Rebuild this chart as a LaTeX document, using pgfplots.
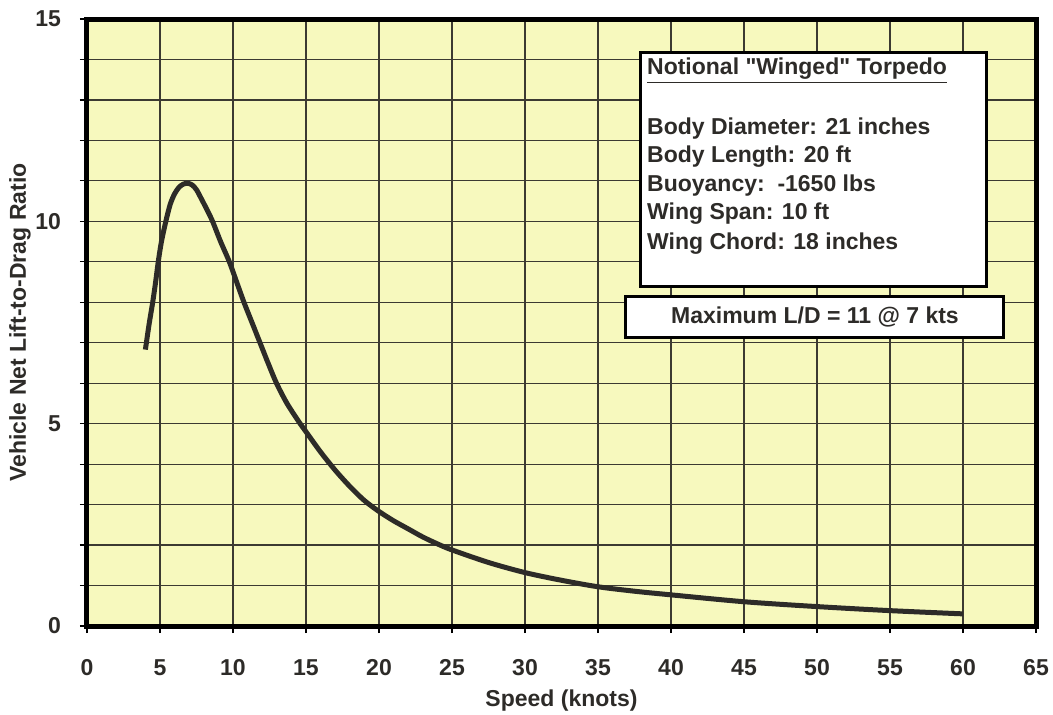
\documentclass[border=0pt]{standalone}
\usepackage{pgfplots}
\pgfplotsset{compat=1.18}
\usepackage{fontspec}
\setmainfont{Liberation Sans}
\definecolor{paper}{RGB}{247,249,190}
\definecolor{ink}{RGB}{45,43,40}
\definecolor{gridc}{RGB}{60,58,50}
\newcommand{\lblfont}{\fontsize{11.5}{13}\selectfont\bfseries}

\begin{document}
\begin{tikzpicture}
\begin{axis}[
    name=ax,
    scale only axis,
    width=474.5pt, height=303.5pt,
    xmin=0, xmax=65, ymin=0, ymax=15,
    xtick={0,5,...,65},
    ytick={0,5,10,15},
    minor y tick num=4,
    grid=both,
    major grid style={gridc, line width=0.6pt},
    minor grid style={gridc, line width=0.6pt},
    axis background/.style={fill=paper},
    axis line style={black, line width=2.5pt},
    tick align=outside,
    major tick length=3.5pt, minor tick length=3.5pt,
    every tick/.style={black, line width=0.6pt},
    every minor tick/.style={black, line width=0.6pt},
    xtick pos=bottom, ytick pos=left,
    /pgf/number format/assume math mode=true,
    tick label style={font=\lblfont, text=ink},
    xticklabel style={anchor=center, yshift=-17.5pt},
    yticklabel style={anchor=east, xshift=-6pt},
    xlabel={Speed (knots)},
    ylabel={Vehicle Net Lift-to-Drag Ratio},
    every axis x label/.style={at={(axis description cs:0.5,-0.1226)}, anchor=center, font=\lblfont, text=ink},
    every axis y label/.style={at={(axis description cs:-0.0707,0.5)}, rotate=90, anchor=center, font=\lblfont, text=ink},
]
\addplot[ink, line width=2.5pt, smooth] coordinates {
    (4.0,6.83) (4.25,7.45) (4.5,8.0) (4.7,8.5) (4.88,9.0) (5.1,9.5)
    (5.4,10.0) (5.7,10.42) (6.0,10.68) (6.3,10.84) (6.6,10.92) (6.9,10.94)
    (7.2,10.9) (7.5,10.78) (7.8,10.58) (8.2,10.3) (8.6,10.0) (9.15,9.5)
    (9.75,9.0) (10.25,8.5) (10.75,8.0) (11.3,7.5) (11.85,7.0) (12.4,6.5)
    (12.98,6.0) (13.7,5.5) (14.6,5.0) (15,4.8) (16,4.3) (17,3.85)
    (18,3.45) (19,3.1) (20,2.83) (21,2.6) (22,2.4) (23,2.2) (24,2.03)
    (25,1.88) (27.5,1.57) (30,1.32) (32.5,1.13) (35,0.97) (37.5,0.86)
    (40,0.77) (45,0.6) (50,0.48) (55,0.38) (60,0.3)
};
% annotation boxes
\draw[black, line width=1.5pt, fill=white] (axis cs:37.9,14.17) rectangle (axis cs:61.6,8.40);
\draw[black, line width=1.5pt, fill=white] (axis cs:36.9,8.14) rectangle (axis cs:62.8,7.12);
\begin{scope}[every node/.style={font=\lblfont, text=ink, anchor=west, inner sep=0pt}]
\node at (axis cs:38.34,13.73) {\underline{Notional \textquotedbl Winged\textquotedbl\ Torpedo}};
\node at (axis cs:38.34,12.30) {Body Diameter: 21 inches};
\node at (axis cs:38.34,11.61) {Body Length: 20 ft};
\node at (axis cs:38.34,10.88) {Buoyancy:\ \ -1650 lbs};
\node at (axis cs:38.34,10.18) {Wing Span: 10 ft};
\node at (axis cs:38.34,9.45) {Wing Chord: 18 inches};
\node[anchor=center] at (axis cs:49.86,7.63) {Maximum L/D = 11 @ 7 kts};
\end{scope}
\end{axis}
\pgfresetboundingbox
\useasboundingbox ([xshift=-43.5pt,yshift=-44pt]ax.south west) rectangle ([xshift=8.5pt,yshift=9.5pt]ax.north east);
\end{tikzpicture}
\end{document}
